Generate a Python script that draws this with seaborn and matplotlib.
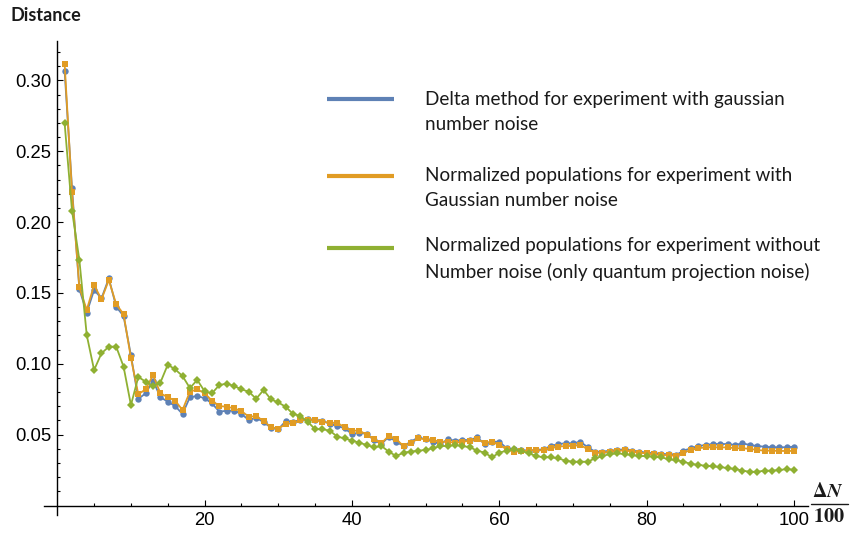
"""Distance en fonction de DeltaN/100 pour les trois méthodes."""

import matplotlib.pyplot as plt
import numpy as np
import pandas as pd
import seaborn as sns
from matplotlib.lines import Line2D
from matplotlib.ticker import FormatStrFormatter


delta_n = np.arange(1, 101)

delta_method = [
    0.3066, 0.2241, 0.1526, 0.1361, 0.1521, 0.1462, 0.1603, 0.1403, 0.1337, 0.1060,
    0.0752, 0.0792, 0.0881, 0.0764, 0.0733, 0.0702, 0.0646, 0.0764, 0.0773, 0.0757,
    0.0721, 0.0662, 0.0669, 0.0669, 0.0646, 0.0603, 0.0620, 0.0588, 0.0550, 0.0538,
    0.0595, 0.0591, 0.0603, 0.0608, 0.0603, 0.0598, 0.0575, 0.0561, 0.0545, 0.0505,
    0.0514, 0.0505, 0.0462, 0.0434, 0.0486, 0.0450, 0.0420, 0.0450, 0.0481, 0.0467,
    0.0450, 0.0434, 0.0467, 0.0457, 0.0462, 0.0462, 0.0481, 0.0434, 0.0450, 0.0450,
    0.0404, 0.0397, 0.0390, 0.0388, 0.0392, 0.0397, 0.0420, 0.0434, 0.0439, 0.0439,
    0.0450, 0.0411, 0.0380, 0.0380, 0.0387, 0.0392, 0.0397, 0.0387, 0.0380, 0.0373,
    0.0368, 0.0363, 0.0363, 0.0356, 0.0387, 0.0404, 0.0420, 0.0427, 0.0434, 0.0434,
    0.0434, 0.0427, 0.0439, 0.0427, 0.0420, 0.0415, 0.0411, 0.0411, 0.0411, 0.0415,
]

norm_gauss = [
    0.3116, 0.2215, 0.1540, 0.1380, 0.1556, 0.1455, 0.1591, 0.1420, 0.1351, 0.1041,
    0.0785, 0.0820, 0.0921, 0.0792, 0.0764, 0.0740, 0.0674, 0.0803, 0.0820, 0.0792,
    0.0740, 0.0702, 0.0697, 0.0686, 0.0666, 0.0627, 0.0630, 0.0598, 0.0552, 0.0542,
    0.0575, 0.0580, 0.0603, 0.0603, 0.0603, 0.0591, 0.0584, 0.0584, 0.0552, 0.0528,
    0.0528, 0.0500, 0.0467, 0.0440, 0.0491, 0.0467, 0.0420, 0.0440, 0.0474, 0.0467,
    0.0462, 0.0450, 0.0450, 0.0443, 0.0450, 0.0457, 0.0467, 0.0443, 0.0450, 0.0427,
    0.0397, 0.0380, 0.0382, 0.0390, 0.0390, 0.0390, 0.0405, 0.0415, 0.0420, 0.0420,
    0.0427, 0.0397, 0.0373, 0.0373, 0.0380, 0.0385, 0.0390, 0.0380, 0.0373, 0.0368,
    0.0360, 0.0356, 0.0356, 0.0350, 0.0373, 0.0392, 0.0404, 0.0410, 0.0410, 0.0410,
    0.0410, 0.0404, 0.0404, 0.0400, 0.0392, 0.0387, 0.0387, 0.0385, 0.0385, 0.0385,
]

norm_no_noise = [
    0.2697, 0.2081, 0.1733, 0.1203, 0.0956, 0.1074, 0.1121, 0.1121, 0.0980, 0.0709,
    0.0907, 0.0874, 0.0843, 0.0868, 0.0994, 0.0961, 0.0914, 0.0829, 0.0886, 0.0806,
    0.0792, 0.0850, 0.0860, 0.0843, 0.0820, 0.0803, 0.0753, 0.0815, 0.0749, 0.0727,
    0.0697, 0.0646, 0.0632, 0.0591, 0.0538, 0.0538, 0.0528, 0.0486, 0.0474, 0.0458,
    0.0443, 0.0427, 0.0411, 0.0420, 0.0380, 0.0349, 0.0373, 0.0380, 0.0387, 0.0392,
    0.0404, 0.0420, 0.0420, 0.0427, 0.0420, 0.0411, 0.0387, 0.0373, 0.0340, 0.0373,
    0.0387, 0.0397, 0.0385, 0.0368, 0.0349, 0.0340, 0.0340, 0.0333, 0.0316, 0.0309,
    0.0309, 0.0309, 0.0333, 0.0349, 0.0363, 0.0368, 0.0363, 0.0356, 0.0349, 0.0349,
    0.0344, 0.0340, 0.0326, 0.0320, 0.0309, 0.0293, 0.0287, 0.0280, 0.0276, 0.0271,
    0.0264, 0.0257, 0.0246, 0.0238, 0.0238, 0.0246, 0.0246, 0.0250, 0.0257, 0.0252,
]

series_labels = [
    "Delta method for experiment with gaussian\nnumber noise",
    "Normalized populations for experiment with\nGaussian number noise",
    "Normalized populations for experiment without\nNumber noise (only quantum projection noise)",
]
x_major = [20, 40, 60, 80, 100]
y_major = [0.05, 0.10, 0.15, 0.20, 0.25, 0.30]

COLORS = ["#5E81B5", "#E19C24", "#8FB032"]
MARKERS = ["o", "s", "D"]
MARKER_SIZES = [4.6, 3.9, 4.0]
W, H = 851, 533


def fx(px: float) -> float:
    return px / W


def fy(py: float) -> float:
    return 1 - py / H


sns.set_theme(style="white")
plt.rcParams["font.family"] = ["Liberation Sans", "DejaVu Sans"]
plt.rcParams["mathtext.fontset"] = "stix"

df = pd.DataFrame(
    {
        "delta_n": delta_n,
        "delta_method": delta_method,
        "norm_gauss": norm_gauss,
        "norm_no_noise": norm_no_noise,
    }
)

fig = plt.figure(figsize=(W / 100, H / 100), dpi=100)
ax = fig.add_axes([fx(44), fy(515), (808 - 44) / W, (515 - 41) / H])

for col, color, marker, ms in zip(
    ["delta_method", "norm_gauss", "norm_no_noise"], COLORS, MARKERS, MARKER_SIZES
):
    sns.lineplot(
        data=df, x="delta_n", y=col, ax=ax, color=color, marker=marker,
        markersize=ms, markeredgewidth=0, linewidth=1.3, legend=False,
    )

ax.set_xlim(-1.8, 101.9)
ax.set_ylim(-0.0067, 0.3278)
ax.set_xlabel("")
ax.set_ylabel("")
for side in ("top", "right"):
    ax.spines[side].set_visible(False)
for side in ("left", "bottom"):
    ax.spines[side].set_position(("data", 0))
    ax.spines[side].set_color("black")
    ax.spines[side].set_linewidth(1.0)

ax.set_xticks(x_major)
ax.set_xticks(np.arange(5, 101, 5), minor=True)
ax.set_yticks(y_major)
ax.set_yticks(np.arange(0.01, 0.325, 0.01), minor=True)
ax.yaxis.set_major_formatter(FormatStrFormatter("%.2f"))
ax.tick_params(which="both", direction="in", color="black", width=0.8,
               bottom=True, left=True)
ax.tick_params(which="major", length=4.5, labelsize=13.3, labelcolor="black")
ax.tick_params(which="minor", length=2.5)
ax.tick_params(axis="x", pad=5)
ax.tick_params(axis="y", pad=4.5)

# légende dessinée à la main, trait aligné sur la première ligne
# (va="baseline" porte sur la dernière ligne du texte)
for label, color, y_line, y_base in zip(
    series_labels, COLORS, [99, 175.7, 247.7], [130.5, 206.5, 278]
):
    fig.add_artist(Line2D([fx(326.7), fx(394.3)], [fy(y_line)] * 2,
                          color=color, lw=3, solid_capstyle="butt"))
    fig.text(fx(425), fy(y_base), label, family=["Lato", "DejaVu Sans"],
             fontsize=13.6, va="baseline", linespacing=1.62, color="#1a1a1a")

fig.text(fx(10), fy(21), "Distance", family=["Lato", "DejaVu Sans"],
         fontweight="bold", fontsize=13, va="baseline", color="#1a1a1a")

fig.text(fx(828), fy(497), r"$\mathbf{\Delta}\mathbfit{N}$", ha="center",
         va="baseline", fontsize=14.5, color="#1a1a1a")
fig.add_artist(Line2D([fx(811), fx(848)], [fy(503.5)] * 2, color="#1a1a1a", lw=1.0))
fig.text(fx(829), fy(521.5), r"$\mathbf{100}$", ha="center", va="baseline",
         fontsize=14.5, color="#1a1a1a")

fig.savefig("out.png", dpi=100)
